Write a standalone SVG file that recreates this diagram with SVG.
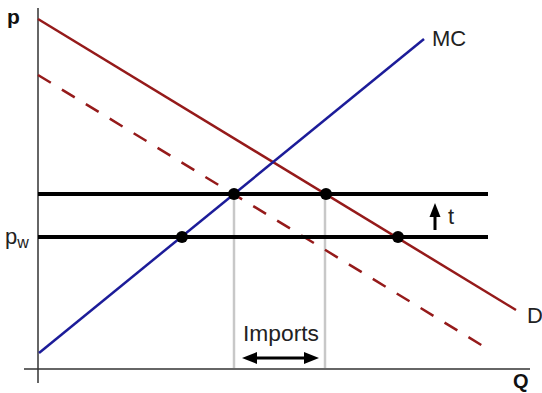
<svg xmlns="http://www.w3.org/2000/svg" width="542" height="393" viewBox="0 0 542 393">
<style>
.txt{font-family:"Liberation Sans",Arial,sans-serif;font-size:22px;fill:#222}
.bold{font-weight:bold;fill:#111}
.axis{stroke:#333;stroke-width:1.5;fill:none}
.d{stroke:#951a1a;stroke-width:2.5;fill:none}
.mc{stroke:#1c1c99;stroke-width:2.5;fill:none}
.price{stroke:#000;stroke-width:4;fill:none}
.guide{stroke:#c8c8c8;stroke-width:2.5;fill:none}
.dot{fill:#000}
</style>
<rect width="542" height="393" fill="#fff"/>
<g id="axes">
<line class="axis" x1="38" y1="8" x2="38" y2="383"/>
<line class="axis" x1="24" y1="369" x2="530" y2="369"/>
<text class="txt bold" x="7" y="24" style="font-size:21px">p</text>
<text class="txt bold" x="513" y="388" style="font-size:20px">Q</text>
</g>
<g id="connectors">
<line class="guide" x1="234" y1="194" x2="234" y2="368"/>
<line class="guide" x1="325" y1="194" x2="325" y2="368"/>
<line class="d" x1="38" y1="75" x2="483" y2="346" stroke-dasharray="15 13"/>
<line class="d" x1="38" y1="19" x2="516" y2="310"/>
<line class="mc" x1="39" y1="353" x2="424" y2="39"/>
<line class="price" x1="38" y1="194" x2="488" y2="194"/>
<line class="price" x1="38" y1="237" x2="488" y2="237"/>
</g>
<g id="labels">
<text class="txt" x="432" y="46">MC</text>
<text class="txt" x="527" y="323">D</text>
<text class="txt" x="5" y="244">p<tspan font-size="16" dy="4">w</tspan></text>
<text class="txt" x="448" y="224">t</text>
<text class="txt" x="243" y="341" textLength="76" lengthAdjust="spacingAndGlyphs">Imports</text>
</g>
<g id="points">
<circle class="dot" cx="182" cy="237" r="6"/>
<circle class="dot" cx="234" cy="194" r="6"/>
<circle class="dot" cx="326" cy="194" r="6"/>
<circle class="dot" cx="398" cy="237" r="6"/>
</g>
<g id="arrows">
<line x1="435" y1="214" x2="435" y2="230" stroke="#000" stroke-width="3"/>
<polygon points="435,203 429.5,217 440.5,217" fill="#000"/>
<line x1="254" y1="358" x2="307" y2="358" stroke="#000" stroke-width="3"/>
<polygon points="242,358 257,352 257,364" fill="#000"/>
<polygon points="319,358 304,352 304,364" fill="#000"/>
</g>
</svg>
